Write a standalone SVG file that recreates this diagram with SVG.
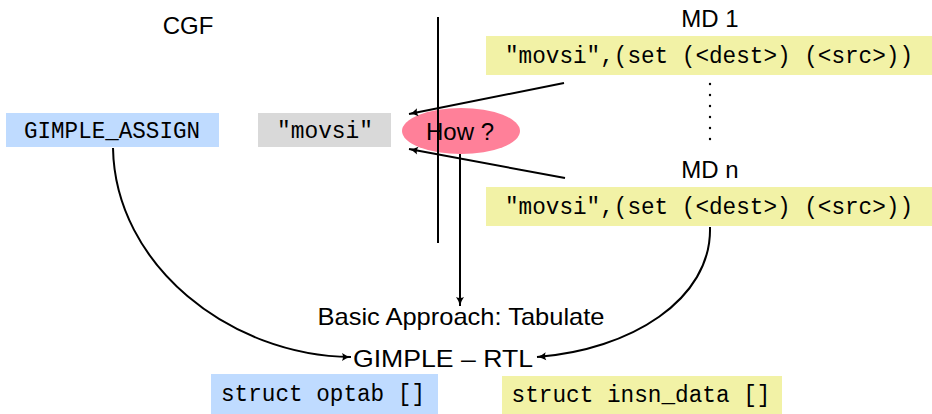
<svg xmlns="http://www.w3.org/2000/svg" width="932" height="414" viewBox="0 0 932 414">
<style>
.sans{font-family:"Liberation Sans","DejaVu Sans",sans-serif;font-size:24px;fill:#000}
.mono{font-family:"Liberation Mono","DejaVu Sans Mono",monospace;font-size:23px;fill:#000}
.ln{stroke:#000;stroke-width:2;fill:none}
.blue{fill:#bfdbff}
.yel{fill:#f2f2a6}
.grey{fill:#d9d9d9}
</style>
<defs>
<marker id="ah" markerWidth="12" markerHeight="10" refX="10" refY="5" orient="auto" markerUnits="userSpaceOnUse">
<path d="M1,1 Q5,4 10,5 Q5,6 1,9 Q3,5 1,1 Z" fill="#000"/>
</marker>
</defs>
<rect width="932" height="414" fill="#fff"/>
<g id="cgf"><text class="sans" x="188" y="34" text-anchor="middle">CGF</text></g>
<g id="md1label"><text class="sans" x="710" y="27" text-anchor="middle">MD 1</text></g>
<g id="md1"><rect class="yel" x="486" y="36" width="446" height="39"/><text class="mono" x="709" y="63" text-anchor="middle" textLength="408" lengthAdjust="spacingAndGlyphs">"movsi",(set (&lt;dest&gt;) (&lt;src&gt;))</text></g>
<g id="dots" fill="#000"><circle cx="710" cy="84" r="1.2"/><circle cx="710" cy="95" r="1.2"/><circle cx="710" cy="106" r="1.2"/><circle cx="710" cy="117" r="1.2"/><circle cx="710" cy="128" r="1.2"/><circle cx="710" cy="139" r="1.2"/></g>
<g id="mdnlabel"><text class="sans" x="710" y="178" text-anchor="middle">MD n</text></g>
<g id="mdn"><rect class="yel" x="486" y="187" width="446" height="39"/><text class="mono" x="709" y="214" text-anchor="middle" textLength="408" lengthAdjust="spacingAndGlyphs">"movsi",(set (&lt;dest&gt;) (&lt;src&gt;))</text></g>
<g id="gimpleassign"><rect class="blue" x="6" y="113" width="213" height="34"/><text class="mono" x="112" y="138" text-anchor="middle" textLength="176" lengthAdjust="spacingAndGlyphs">GIMPLE_ASSIGN</text></g>
<g id="movsi"><rect class="grey" x="258" y="113" width="133" height="34"/><text class="mono" x="325" y="138" text-anchor="middle" textLength="96" lengthAdjust="spacingAndGlyphs">"movsi"</text></g>
<g id="how"><ellipse cx="461" cy="131" rx="59" ry="23" fill="#ff8099"/><text class="sans" x="460" y="140" text-anchor="middle">How ?</text></g>
<g id="basic"><text class="sans" x="461" y="325" text-anchor="middle" textLength="287" lengthAdjust="spacingAndGlyphs">Basic Approach: Tabulate</text></g>
<g id="gimplertl"><text class="sans" x="443" y="367" text-anchor="middle" textLength="180" lengthAdjust="spacingAndGlyphs">GIMPLE – RTL</text></g>
<g id="optab"><rect class="blue" x="211" y="374" width="227" height="40"/><text class="mono" x="323" y="401" text-anchor="middle" textLength="204" lengthAdjust="spacingAndGlyphs">struct optab []</text></g>
<g id="insndata"><rect class="yel" x="502" y="376" width="280" height="38"/><text class="mono" x="641" y="402" text-anchor="middle" textLength="259" lengthAdjust="spacingAndGlyphs">struct insn_data []</text></g>
<g id="connectors">
<line class="ln" x1="438" y1="17" x2="438" y2="243"/>
<line class="ln" x1="564" y1="83" x2="409" y2="114" marker-end="url(#ah)"/>
<line class="ln" x1="565" y1="178" x2="409" y2="149" marker-end="url(#ah)"/>
<line class="ln" x1="460" y1="154" x2="460" y2="306" marker-end="url(#ah)"/>
<path class="ln" d="M113,148 C115,265 230,356 351,357" marker-end="url(#ah)"/>
<path class="ln" d="M710,227 C712,300 630,350 537,357" marker-end="url(#ah)"/>
</g>
</svg>
